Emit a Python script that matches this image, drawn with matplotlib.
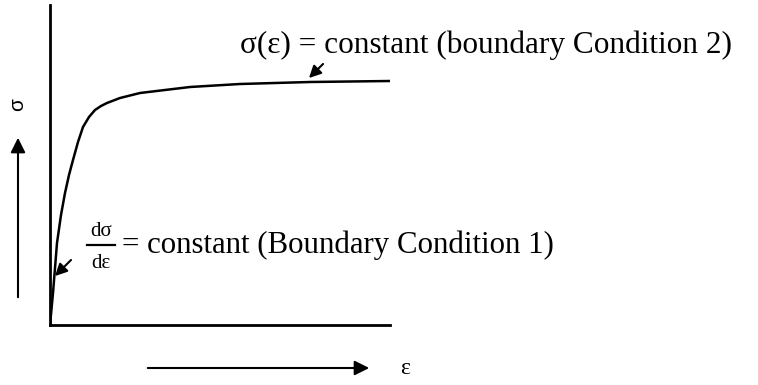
import numpy as np
import matplotlib.pyplot as plt

# stress-strain sketch, values (arbitrary units)
strain = [0, 3, 7, 11, 15, 19, 23, 28, 33, 39, 45, 51, 57, 70, 90, 115, 140, 190, 260, 340]
stress = [0, 32, 82, 110, 132, 150, 165, 183, 198, 208, 215, 219, 222, 227, 232, 235, 238, 241, 243, 244]

label_top = "σ(ε) = constant (boundary Condition 2)"
label_bot = "= constant (Boundary Condition 1)"

serif = ['Liberation Serif', 'DejaVu Serif']

fig = plt.figure(figsize=(7.58, 3.85), dpi=100)
W, H = 758, 385
ax = fig.add_axes([50 / W, (H - 325) / H, 340 / W, 320 / H])
ax.plot(strain, stress, color='black', lw=1.8, solid_joinstyle='round')
ax.set_xlim(0, 340)
ax.set_ylim(0, 320)
ax.set_xticks([])
ax.set_yticks([])
ax.spines['top'].set_visible(False)
ax.spines['right'].set_visible(False)
for s in ['left', 'bottom']:
    ax.spines[s].set_linewidth(2.0)

arr = dict(arrowstyle='-|>', color='black', lw=1.5, mutation_scale=18)
ax.annotate('', xy=(3, 47), xytext=(23, 67), arrowprops=arr)
ax.annotate('', xy=(257, 245), xytext=(275, 263), arrowprops=arr)

# labels
fig.text(240 / W, (H - 45) / H, label_top, family=serif, fontsize=22.5,
         va='center', ha='left')
fig.text(101 / W, (H - 231) / H, 'dσ', family=serif, fontsize=15, va='center', ha='center')
fig.text(101 / W, (H - 264) / H, 'dε', family=serif, fontsize=15, va='center', ha='center')
fig.add_artist(plt.Line2D([87 / W, 115 / W], [(H - 245) / H, (H - 245) / H],
                          color='black', lw=1.6))
fig.text(122 / W, (H - 245) / H, label_bot, family=serif, fontsize=22.2,
         va='center', ha='left')

# axis direction arrows
fig.text(18 / W, (H - 105) / H, 'σ', fontsize=15, rotation=90, va='center', ha='center',
         family=['Liberation Sans', 'DejaVu Sans'])
big = dict(arrowstyle='-|>', color='black', lw=1.5, mutation_scale=22)
ax.annotate('', xy=(18, H - 135), xytext=(18, H - 300), xycoords='figure pixels',
            textcoords='figure pixels', arrowprops=big)
ax.annotate('', xy=(372, H - 368), xytext=(145, H - 368), xycoords='figure pixels',
            textcoords='figure pixels', arrowprops=big)
fig.text(405 / W, (H - 368) / H, 'ε', family=serif, fontsize=17, va='center', ha='center')

fig.savefig('out.png', dpi=100)
